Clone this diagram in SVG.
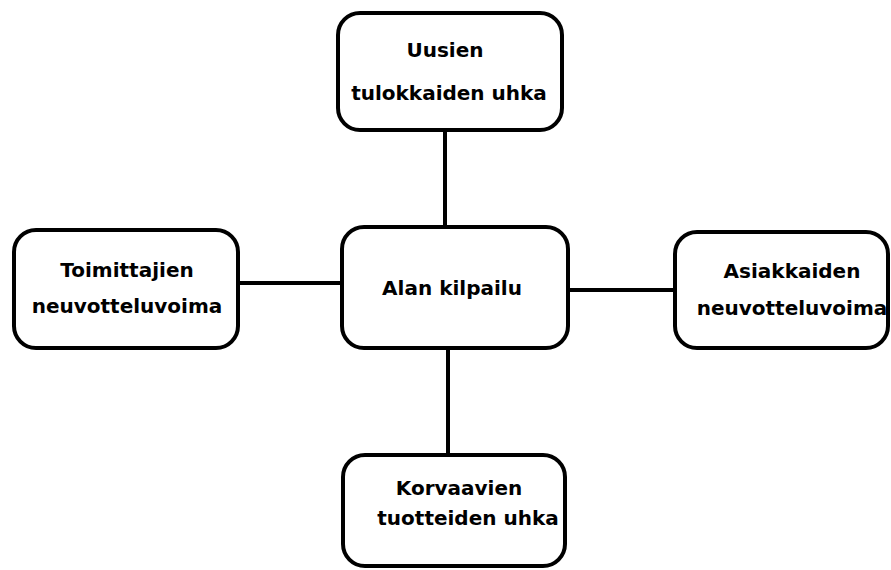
<svg xmlns="http://www.w3.org/2000/svg" width="891" height="570" viewBox="0 0 891 570">
<style>
.box{fill:#fff;stroke:#000;stroke-width:4}
.lbl{font-family:"DejaVu Sans",sans-serif;font-weight:bold;font-size:20px;fill:#000;text-anchor:middle}
.con{stroke:#000;stroke-width:4;fill:none}
</style>
<rect width="891" height="570" fill="#fff"/>
<g id="connectors">
<line class="con" x1="445" y1="130" x2="445" y2="228"/>
<line class="con" x1="238" y1="283" x2="342" y2="283"/>
<line class="con" x1="568" y1="290" x2="675" y2="290"/>
<line class="con" x1="448" y1="348" x2="448" y2="455"/>
</g>
<g id="n_top">
<rect class="box" x="338" y="13" width="224" height="117" rx="22"/>
<text class="lbl" x="445" y="57">Uusien</text>
<text class="lbl" x="449" y="100">tulokkaiden uhka</text>
</g>
<g id="n_left">
<rect class="box" x="14" y="230" width="224" height="118" rx="22"/>
<text class="lbl" x="127" y="277">Toimittajien</text>
<text class="lbl" x="127" y="313">neuvotteluvoima</text>
</g>
<g id="n_center">
<rect class="box" x="342" y="227" width="226" height="121" rx="22"/>
<text class="lbl" x="452" y="295">Alan kilpailu</text>
</g>
<g id="n_right">
<rect class="box" x="675" y="232" width="213" height="116" rx="22"/>
<text class="lbl" x="792" y="278">Asiakkaiden</text>
<text class="lbl" x="792" y="315">neuvotteluvoima</text>
</g>
<g id="n_bottom">
<rect class="box" x="343" y="455" width="222" height="111" rx="22"/>
<text class="lbl" x="459" y="495">Korvaavien</text>
<text class="lbl" x="468" y="525">tuotteiden uhka</text>
</g>
</svg>
